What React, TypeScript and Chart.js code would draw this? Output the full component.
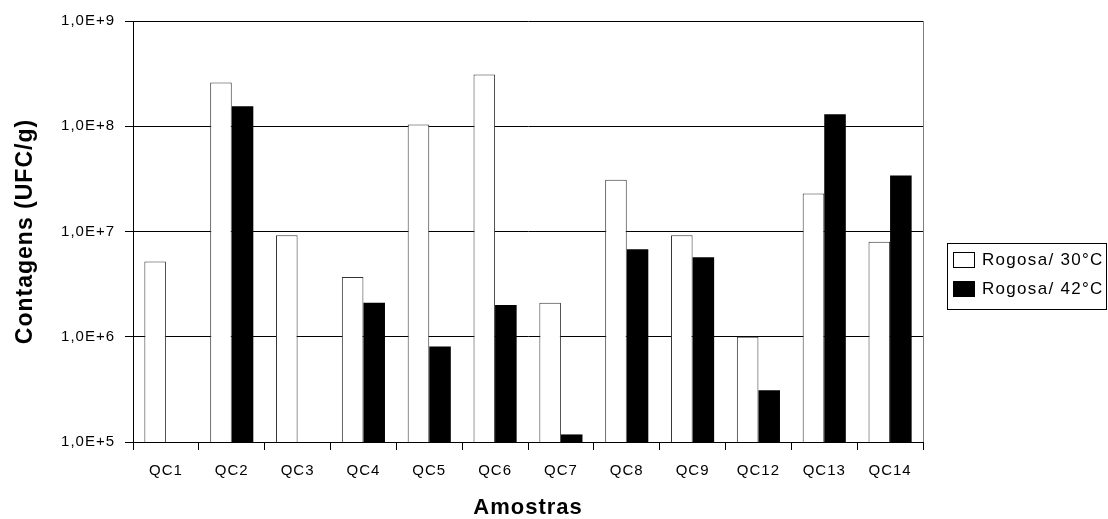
import React, { useEffect, useRef } from "react";
import { Chart, registerables } from "chart.js";

Chart.register(...registerables);

const categories = ["QC1", "QC2", "QC3", "QC4", "QC5", "QC6", "QC7", "QC8", "QC9", "QC12", "QC13", "QC14"];
const rogosa30 = [5.2e6, 2.6e8, 9.2e6, 3.7e6, 1.04e8, 3.1e8, 2.1e6, 3.1e7, 9.2e6, 1.0e6, 2.3e7, 8.0e6];
const rogosa42 = [1e5, 1.55e8, 1e5, 2.1e6, 8.1e5, 2.0e6, 1.18e5, 6.8e6, 5.7e6, 3.1e5, 1.3e8, 3.4e7];
const seriesLabels = ["Rogosa/ 30°C", "Rogosa/ 42°C"];
const yTickValues = [1e5, 1e6, 1e7, 1e8, 1e9];
const xTitle = "Amostras";
const yTitle = "Contagens (UFC/g)";

const FONT = "'Liberation Sans', Arial, sans-serif";

const spacing = {
  id: "spacing",
  beforeUpdate(chart: any) { chart.ctx.letterSpacing = "1px"; },
  beforeLayout(chart: any) { chart.ctx.letterSpacing = "1px"; },
  beforeDraw(chart: any) { chart.ctx.letterSpacing = "1px"; },
};

const frameAndLegend = {
  id: "frameAndLegend",
  afterDraw(chart: any) {
    const ctx = chart.ctx;
    const a = chart.chartArea;
    ctx.save();
    ctx.strokeStyle = "#808080";
    ctx.lineWidth = 1;
    ctx.beginPath();
    ctx.moveTo(Math.round(a.right) + 0.5, a.top);
    ctx.lineTo(Math.round(a.right) + 0.5, a.bottom);
    ctx.stroke();

    const lx = 947, ly = 243, lw = 159, lh = 66;
    ctx.strokeStyle = "#000";
    ctx.strokeRect(lx + 0.5, ly + 0.5, lw, lh);
    ctx.letterSpacing = "1.3px";
    ctx.font = `17px ${FONT}`;
    ctx.textBaseline = "middle";
    ctx.textAlign = "left";
    chart.data.datasets.forEach((ds: any, i: number) => {
      const y = ly + 9 + i * 29;
      ctx.fillStyle = ds.backgroundColor;
      ctx.fillRect(lx + 6, y, 22, 16);
      ctx.strokeStyle = "#000";
      ctx.strokeRect(lx + 6.5, y + 0.5, 21, 15);
      ctx.fillStyle = "#000";
      ctx.fillText(ds.label, lx + 35, y + 8);
    });
    ctx.restore();
  },
};

export default function App() {
  const ref = useRef<HTMLCanvasElement>(null);
  useEffect(() => {
    if (!ref.current) return;
    Chart.defaults.font.family = FONT;
    Chart.defaults.color = "#000";
    const chart = new Chart(ref.current, {
      type: "bar",
      data: {
        labels: categories,
        datasets: [
          {
            label: seriesLabels[0],
            data: rogosa30,
            backgroundColor: "#ffffff",
            borderColor: "#333333",
            borderWidth: 1,
            borderSkipped: "bottom",
            categoryPercentage: 0.655,
            barPercentage: 1,
          },
          {
            label: seriesLabels[1],
            data: rogosa42,
            backgroundColor: "#000000",
            borderColor: "#000000",
            borderWidth: 0,
            categoryPercentage: 0.655,
            barPercentage: 1,
          },
        ],
      },
      options: {
        responsive: false,
        animation: false,
        devicePixelRatio: 1,
        layout: { padding: { top: 21, right: 185, left: 0, bottom: 0 } },
        plugins: { legend: { display: false }, tooltip: { enabled: false } },
        scales: {
          x: {
            type: "category",
            grid: { offset: true, drawOnChartArea: false, drawTicks: true, tickLength: 8, color: "#000" },
            border: { display: true, color: "#000", width: 1 },
            ticks: { font: { size: 15 }, padding: 12, color: "#000", maxRotation: 0 },
            title: { display: true, text: xTitle, font: { size: 22, weight: "bold", lineHeight: 1 }, padding: { top: 0, bottom: 0 }, color: "#000" },
            afterFit: (s: any) => { s.height = 77; },
          },
          y: {
            type: "logarithmic",
            min: 1e5,
            max: 1e9,
            grid: { color: "#000", drawTicks: true, tickLength: 8 },
            border: { display: true, color: "#000", width: 1 },
            ticks: {
              font: { size: 15 },
              padding: 10,
              color: "#000",
              callback: (v: any) => "1,0E+" + Math.round(Math.log10(Number(v))),
            },
            afterBuildTicks: (s: any) => { s.ticks = yTickValues.map((v) => ({ value: v })); },
            title: { display: true, text: yTitle, font: { size: 23, weight: "bold", lineHeight: 1 }, padding: { top: 14, bottom: 0 }, color: "#000" },
            afterFit: (s: any) => { s.width = 133; },
          },
        },
      },
      plugins: [spacing, frameAndLegend],
    });
    return () => chart.destroy();
  }, []);
  return (
    <div style={{ position: "absolute", left: 0, top: 0, width: 1108, height: 519, background: "#fff" }}>
      <canvas ref={ref} width={1108} height={519} style={{ display: "block" }} />
    </div>
  );
}
